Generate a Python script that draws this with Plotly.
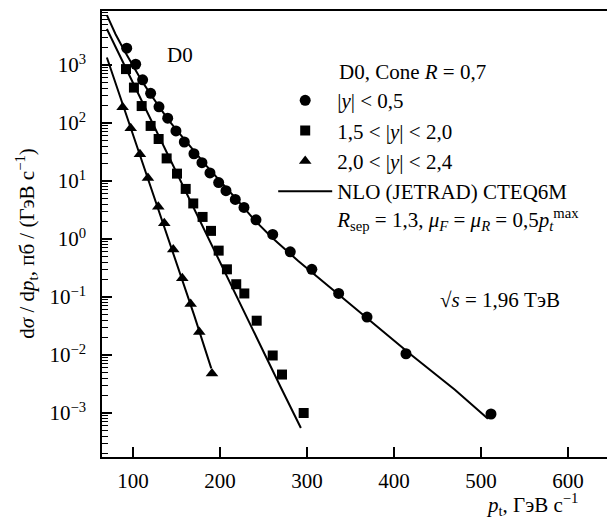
import plotly.graph_objects as go

# ---- data ----
circ_pt = [92.8, 103.1, 111.1, 120.3, 129.9, 139.9, 149.4, 159.0, 170.1, 179.3, 188.5, 198.5,
           206.9, 217.6, 227.6, 241.4, 260.6, 280.8, 305.6, 336.4, 369.0, 413.8, 511.5]
circ_val = [1950, 1030, 555, 325, 190, 121, 73, 47, 29.5, 20.7, 13.8, 9.4,
            6.8, 4.8, 3.5, 2.14, 1.2, 0.60, 0.30, 0.115, 0.045, 0.0105, 0.00096]

sq_pt = [92.0, 101.1, 110.0, 120.3, 129.5, 138.7, 150.6, 160.6, 169.3, 180.0, 189.7, 198.5,
         208.0, 218.7, 228.0, 242.2, 260.6, 271.3, 296.2]
sq_val = [850, 408, 196, 89, 53, 24.5, 13.4, 7.3, 4.1, 2.4, 1.38, 0.63,
          0.30, 0.166, 0.115, 0.039, 0.0098, 0.0046, 0.00100]

tri_pt = [88.1, 97.4, 108.0, 117.2, 129.1, 136.0, 146.3, 156.7, 166.3, 176.2, 190.8]
tri_val = [187, 81, 29, 11.3, 3.6, 1.86, 0.66, 0.21, 0.076, 0.025, 0.0048]

nlo_c_pt = [70, 80, 90, 100, 110, 120, 130, 140, 150, 160, 170, 185, 200, 220, 240, 260,
            290, 330, 370, 420, 470, 508]
nlo_c_val = [7244, 3388, 1778, 955, 537, 316, 190, 117, 75.9, 50.1, 33.1, 17.8, 10.0, 4.68,
             2.09, 1.05, 0.417, 0.132, 0.0417, 0.0100, 0.00251, 0.000794]

nlo_s_pt = [70, 100, 130, 160, 190, 220, 250, 270, 293]
nlo_s_val = [4169, 490, 57.5, 6.92, 0.813, 0.0955, 0.0115, 0.00275, 0.00055]

nlo_t_pt = [70, 90, 110, 130, 150, 170, 190]
nlo_t_val = [1349, 178, 23.4, 3.02, 0.398, 0.0501, 0.00589]

x_ticks = [100, 200, 300, 400, 500, 600]
y_decades = [-3, -2, -1, 0, 1, 2, 3]
y_ticktext = ["10<sup>−3</sup>", "10<sup>−2</sup>", "10<sup>−1</sup>", "10<sup>0</sup>",
              "10<sup>1</sup>", "10<sup>2</sup>", "10<sup>3</sup>"]

FONT = "Liberation Serif"
FS = 21

fig = go.Figure()

fig.add_trace(go.Scatter(x=circ_pt, y=circ_val, mode="markers", name="|<i>y</i>| < 0,5",
                         marker=dict(symbol="circle", size=11, color="black")))
fig.add_trace(go.Scatter(x=sq_pt, y=sq_val, mode="markers", name="1,5 < |<i>y</i>| < 2,0",
                         marker=dict(symbol="square", size=10, color="black")))
fig.add_trace(go.Scatter(x=tri_pt, y=tri_val, mode="markers", name="2,0 < |<i>y</i>| < 2,4",
                         marker=dict(symbol="triangle-up", size=11, color="black")))
nlo_name = ("NLO (JETRAD) CTEQ6M<br><i>R</i><sub>sep</sub> = 1,3, <i>μ</i><sub><i>F</i></sub> = "
            "<i>μ</i><sub><i>R</i></sub> = 0,5<i>p</i><sub><i>t</i></sub><sup>max</sup>")
fig.add_trace(go.Scatter(x=nlo_c_pt, y=nlo_c_val, mode="lines", name=nlo_name,
                         line=dict(color="black", width=2)))
fig.add_trace(go.Scatter(x=nlo_s_pt, y=nlo_s_val, mode="lines", showlegend=False,
                         line=dict(color="black", width=2)))
fig.add_trace(go.Scatter(x=nlo_t_pt, y=nlo_t_val, mode="lines", showlegend=False,
                         line=dict(color="black", width=2)))

minor_vals = [m * 10 ** d for d in range(-4, 4) for m in range(2, 10)]

# the page body adds an 8 px offset, so the figure is 8 px smaller with 8 px less left/top margin
fig.update_layout(
    template="none",
    width=607, height=510,
    margin=dict(l=94, r=5, t=3, b=61, autoexpand=False),
    paper_bgcolor="white", plot_bgcolor="white",
    font=dict(family=FONT, size=FS, color="black"),
    showlegend=True,
    legend=dict(x=0.337, y=0.845, xanchor="left", yanchor="top", bgcolor="rgba(0,0,0,0)",
                itemwidth=54, valign="top", font=dict(family=FONT, size=FS),
                traceorder="normal", borderwidth=0),
    xaxis=dict(range=[64.4, 648.3], tickvals=x_ticks, ticks="inside", ticklen=10,
               tickwidth=1.5, tickcolor="black", showline=True, linecolor="black",
               linewidth=1.5, mirror=True, showgrid=False, zeroline=False,
               automargin=False, ticklabelstandoff=4, tickfont=dict(size=FS)),
    yaxis=dict(type="log", range=[-3.759, 3.931], tickvals=[10 ** d for d in y_decades],
               ticktext=y_ticktext, ticks="inside", ticklen=10, tickwidth=1.5,
               tickcolor="black", showline=True, linecolor="black", linewidth=1.5,
               mirror=True, showgrid=False, zeroline=False, ticklabelstandoff=10,
               automargin=False, tickfont=dict(size=FS),
               minor=dict(tickmode="array", tickvals=minor_vals, ticks="inside",
                          ticklen=6, tickwidth=1, tickcolor="black", showgrid=False)),
    annotations=[
        dict(text="D0", xref="paper", yref="paper", x=0.1535, y=0.901, showarrow=False,
             xanchor="center", yanchor="middle", font=dict(size=FS)),
        dict(text="D0, Cone <i>R</i> = 0,7", xref="paper", yref="paper", x=0.4626, y=0.863,
             showarrow=False, xanchor="left", yanchor="middle", font=dict(size=FS)),
        dict(text="√<i>s</i> = 1,96 ТэВ", xref="paper", yref="paper", x=0.661, y=0.352,
             showarrow=False, xanchor="left", yanchor="middle", font=dict(size=FS)),
        dict(text="<i>p</i><sub>t</sub>, ГэВ с<sup>−1</sup>", xref="paper", yref="paper",
             x=0.941, y=-0.106, showarrow=False, xanchor="right", yanchor="middle",
             font=dict(size=FS)),
        dict(text="d<i>σ</i> / d<i>p</i><sub>t</sub>, пб / (ГэВ с<sup>−1</sup>)",
             xref="paper", yref="paper", x=-0.148, y=0.478, showarrow=False,
             textangle=-90, xanchor="center", yanchor="middle", font=dict(size=FS)),
    ],
)

fig.write_html("out.html")
